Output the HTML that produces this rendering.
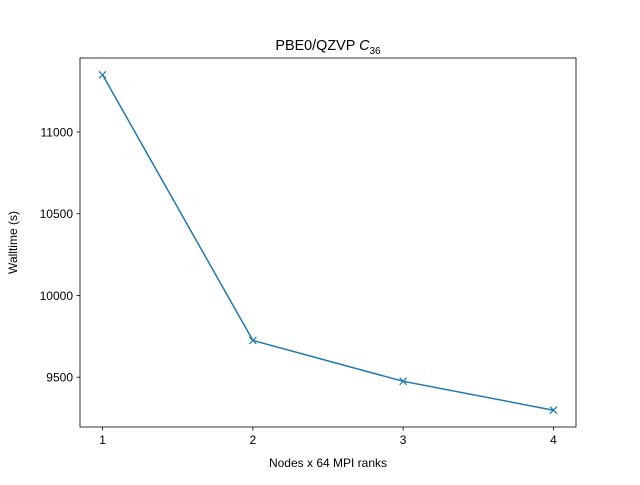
<!DOCTYPE html>
<html><head><meta charset="utf-8"><style>
body{margin:0;background:#fff;}
svg text{font-family:"Liberation Sans","DejaVu Sans",sans-serif;fill:#000;}
</style></head><body>
<svg id="chart" width="640" height="480" viewBox="0 0 640 480" xmlns="http://www.w3.org/2000/svg">
<rect width="640" height="480" fill="#fff"/>
<g id="grid"></g>
<text x="328" y="50" text-anchor="middle" font-size="14.4">PBE0/QZVP <tspan font-style="italic">C</tspan><tspan font-size="10" dy="4">36</tspan></text>
<text x="328" y="467" text-anchor="middle" font-size="12">Nodes x 64 MPI ranks</text>
<text transform="translate(17,242.5) rotate(-90)" text-anchor="middle" font-size="12">Walltime (s)</text>
</svg>
<script>
const nodes = [1, 2, 3, 4];
const walltime = [11350, 9725, 9475, 9298];
const yTicks = [9500, 10000, 10500, 11000];
const xTicks = [1, 2, 3, 4];

const L = 80, R = 576, T = 58, B = 427;
const ns = "http://www.w3.org/2000/svg";
const svg = document.getElementById('chart');
const g = document.getElementById('grid');
const xmin0 = Math.min(...nodes), xmax0 = Math.max(...nodes);
const ymin0 = Math.min(...walltime), ymax0 = Math.max(...walltime);
const xm = (xmax0 - xmin0) * 0.05, ym = (ymax0 - ymin0) * 0.05;
const xmin = xmin0 - xm, xmax = xmax0 + xm, ymin = ymin0 - ym, ymax = ymax0 + ym;
const sx = v => L + (v - xmin) / (xmax - xmin) * (R - L);
const sy = v => B - (v - ymin) / (ymax - ymin) * (B - T);
function mk(tag, attrs) { const e = document.createElementNS(ns, tag); for (const k in attrs) e.setAttribute(k, attrs[k]); g.appendChild(e); return e; }

xTicks.forEach(t => {
  const x = sx(t);
  const tk = mk('line', {x1: x, x2: x, y1: B, y2: B + 3.5, stroke: '#000', 'stroke-width': 0.8});
  
  
  const tx = mk('text', {x: x, y: B + 17, 'text-anchor': 'middle', 'font-size': 12});
  tx.textContent = t;
  
  
});
yTicks.forEach(t => {
  const y = sy(t);
  const tk = mk('line', {x1: L - 3.5, x2: L, y1: y, y2: y, stroke: '#000', 'stroke-width': 0.8});
  
  
  const tx = mk('text', {x: L - 7, y: y + 4.5, 'text-anchor': 'end', 'font-size': 12});
  tx.textContent = t;
  
  
});

const pts = nodes.map((n, i) => sx(n) + ',' + sy(walltime[i])).join(' ');
const line = mk('polyline', {points: pts, fill: 'none', stroke: '#1f77b4', 'stroke-width': 1.5, 'stroke-linejoin': 'round'});


nodes.forEach((n, i) => {
  const x = sx(n), y = sy(walltime[i]), d = 3.5;
  const p = mk('path', {d: `M${x-d},${y-d}L${x+d},${y+d}M${x-d},${y+d}L${x+d},${y-d}`, stroke: '#1f77b4', 'stroke-width': 1.2, fill: 'none'});
  
  
});

const frame = mk('rect', {x: L, y: T, width: R - L, height: B - T, fill: 'none', stroke: '#000', 'stroke-width': 0.8});


</script>
</body></html>
